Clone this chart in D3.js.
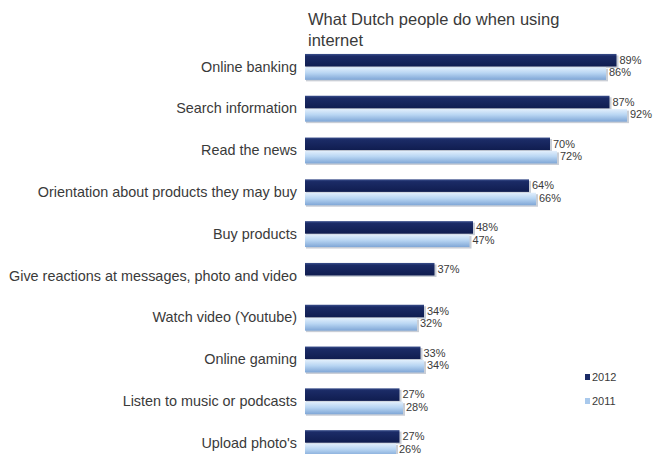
<!DOCTYPE html>
<html>
<head>
<meta charset="utf-8">
<script src="https://cdn.jsdelivr.net/npm/d3@7"></script>
<style>
  html, body { margin: 0; padding: 0; background: #ffffff; }
  svg { display: block; }
  text { font-family: "Liberation Sans", Arial, sans-serif; }
</style>
</head>
<body>
<svg id="chart" width="654" height="454"></svg>
<script>
// Activities and shares (percent) per survey year
const categories = [
  "Online banking",
  "Search information",
  "Read the news",
  "Orientation about products they may buy",
  "Buy products",
  "Give reactions at messages, photo and video",
  "Watch video (Youtube)",
  "Online gaming",
  "Listen to music or podcasts",
  "Upload photo's"
];
const values2012 = [89, 87, 70, 64, 48, 37, 34, 33, 27, 27];
const values2011 = [86, 92, 72, 66, 47, null, 32, 34, 28, 26];
const seriesNames = ["2012", "2011"];
const titleLines = ["What Dutch people do when using", "internet"];

const svg = d3.select("#chart");
const defs = svg.append("defs");

// Bar fills: dark navy for 2012, pale blue for 2011, each with a soft vertical gradient
const gradDark = defs.append("linearGradient").attr("id", "gDark")
  .attr("x1", 0).attr("y1", 0).attr("x2", 0).attr("y2", 1);
gradDark.append("stop").attr("offset", "0%").attr("stop-color", "#3a4f8c");
gradDark.append("stop").attr("offset", "18%").attr("stop-color", "#1b2b66");
gradDark.append("stop").attr("offset", "100%").attr("stop-color", "#101d50");

const gradLight = defs.append("linearGradient").attr("id", "gLight")
  .attr("x1", 0).attr("y1", 0).attr("x2", 0).attr("y2", 1);
gradLight.append("stop").attr("offset", "0%").attr("stop-color", "#e2effc");
gradLight.append("stop").attr("offset", "45%").attr("stop-color", "#b9d6f3");
gradLight.append("stop").attr("offset", "100%").attr("stop-color", "#7fa6d6");

const fills = { "2012": "url(#gDark)", "2011": "url(#gLight)" };
const legendFills = { "2012": "#1b2b66", "2011": "#a9c9ec" };

const x = d3.scaleLinear().domain([0, 100]).range([305, 655]);
const y = d3.scaleBand().domain(categories).range([46, 464])
  .paddingInner(0.38).paddingOuter(0.19);
const ySub = d3.scaleBand().domain(seriesNames).range([0, y.bandwidth()]).paddingInner(0.06);

// Title
const title = svg.append("text")
  .attr("x", 308).attr("y", 25)
  .attr("font-size", 16.5).attr("fill", "#3a3a3a");
titleLines.forEach((line, i) => {
  title.append("tspan").attr("x", 308).attr("dy", i === 0 ? 0 : 21).text(line);
});

// Category axis (labels only)
const yAxis = svg.append("g")
  .attr("transform", `translate(${x(0) - 8},0)`)
  .call(d3.axisLeft(y).tickSize(0).tickPadding(0));
yAxis.select(".domain").remove();
yAxis.selectAll("text")
  .attr("font-size", 14.4)
  .attr("fill", "#3a3a3a")
  .attr("font-family", "\"Liberation Sans\", Arial, sans-serif");

// Rows of data
const rows = categories.map((c, i) => ({
  category: c,
  bars: [
    { key: "2012", value: values2012[i] },
    { key: "2011", value: values2011[i] }
  ].filter(b => b.value !== null)
}));

const groups = svg.append("g").selectAll("g")
  .data(rows).join("g")
  .attr("transform", d => `translate(0,${y(d.category)})`);

// Faint shadow behind each bar
groups.selectAll("rect.shadow")
  .data(d => d.bars).join("rect")
  .attr("class", "shadow")
  .attr("x", x(0) + 1)
  .attr("y", d => ySub(d.key) + 1.5)
  .attr("width", d => x(d.value) - x(0) + 1)
  .attr("height", ySub.bandwidth())
  .attr("fill", "#c9ced6");

groups.selectAll("rect.bar")
  .data(d => d.bars).join("rect")
  .attr("class", "bar")
  .attr("x", x(0))
  .attr("y", d => ySub(d.key))
  .attr("width", d => x(d.value) - x(0))
  .attr("height", ySub.bandwidth())
  .attr("fill", d => fills[d.key]);

// Value labels at the bar ends
groups.selectAll("text.val")
  .data(d => d.bars).join("text")
  .attr("class", "val")
  .attr("x", d => x(d.value) + 3)
  .attr("y", d => ySub(d.key) + ySub.bandwidth() / 2 + (d.key === "2012" ? 0 : -1))
  .attr("dy", "0.35em")
  .attr("font-size", 11)
  .attr("fill", "#3a3a3a")
  .text(d => d.value + "%");

// Legend
const legend = svg.append("g").selectAll("g")
  .data(seriesNames).join("g")
  .attr("transform", (d, i) => `translate(585,${377 + i * 24})`);
legend.append("rect")
  .attr("x", 0).attr("y", -3).attr("width", 5).attr("height", 6)
  .attr("fill", d => legendFills[d]);
legend.append("text")
  .attr("x", 7).attr("y", 0).attr("dy", "0.35em")
  .attr("font-size", 11).attr("fill", "#3a3a3a")
  .text(d => d);
</script>
</body>
</html>
